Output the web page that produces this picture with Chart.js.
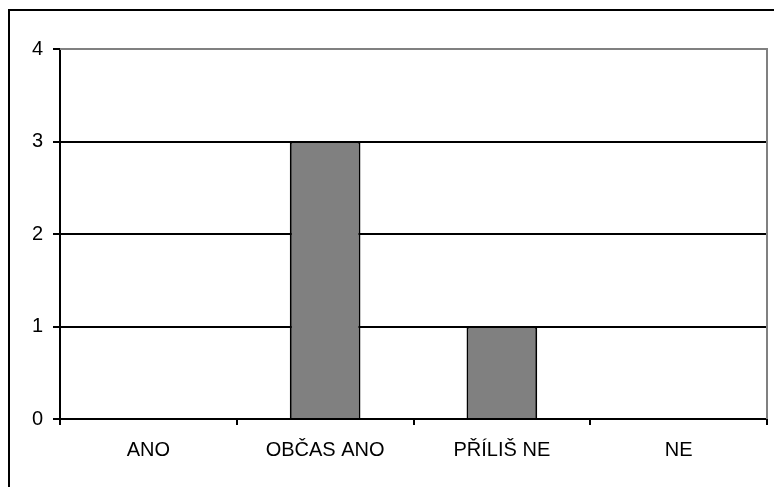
<!DOCTYPE html>
<html>
<head>
<meta charset="utf-8">
<script src="https://cdn.jsdelivr.net/npm/chart.js@4/dist/chart.umd.min.js"></script>
<style>
  html, body { margin: 0; padding: 0; background: #fff; }
  #wrap { width: 774px; height: 487px; }
</style>
</head>
<body>
<div id="wrap"><canvas id="graf" width="774" height="487"></canvas></div>
<script>
const kategorie = ['ANO', 'OBČAS ANO', 'PŘÍLIŠ NE', 'NE'];
const pocty = [0, 3, 1, 0];
const osaY = [0, 1, 2, 3, 4];

// rámeček kolem celého grafu + šedé okraje plochy grafu (nahoře a vpravo)
const ramecek = {
  id: 'ramecek',
  beforeDraw(chart) {
    const c = chart.ctx;
    c.save();
    c.fillStyle = '#fff';
    c.fillRect(0, 0, chart.width, chart.height);
    c.strokeStyle = '#000';
    c.lineWidth = 2;
    c.beginPath();
    c.moveTo(9, chart.height);
    c.lineTo(9, 10);
    c.lineTo(chart.width, 10);
    c.stroke();
    c.restore();
  },
  afterDatasetsDraw(chart) {
    const a = chart.chartArea;
    const c = chart.ctx;
    c.save();
    c.strokeStyle = '#808080';
    c.lineWidth = 2;
    c.beginPath();
    c.moveTo(a.left, a.top);
    c.lineTo(a.right, a.top);
    c.lineTo(a.right, a.bottom);
    c.stroke();
    c.restore();
  }
};

const pismo = { family: "'Liberation Sans', Arial, sans-serif", size: 20 };

new Chart(document.getElementById('graf'), {
  type: 'bar',
  data: {
    labels: kategorie,
    datasets: [{
      data: pocty,
      backgroundColor: '#808080',
      borderColor: '#000',
      borderWidth: 2,
      borderSkipped: 'bottom',
      barPercentage: 0.4,
      categoryPercentage: 1.0
    }]
  },
  options: {
    responsive: false,
    animation: false,
    layout: { padding: { left: 0, top: 49, right: 7, bottom: 0 } },
    plugins: { legend: { display: false }, tooltip: { enabled: false } },
    scales: {
      x: {
        grid: {
          offset: true,
          drawOnChartArea: false,
          drawTicks: true,
          tickLength: 6,
          color: '#000',
          lineWidth: 2
        },
        border: { color: '#000', width: 2 },
        ticks: {
          color: '#000',
          font: pismo,
          padding: 13,
          maxRotation: 0
        },
        afterFit(s) { s.height = 68; }
      },
      y: {
        min: osaY[0],
        max: osaY[osaY.length - 1],
        afterBuildTicks(s) { s.ticks = osaY.map(v => ({ value: v })); },
        grid: {
          color: '#000',
          lineWidth: 2,
          tickLength: 7,
          drawTicks: true
        },
        border: { color: '#000', width: 2 },
        ticks: {
          color: '#000',
          font: pismo,
          padding: 10
        },
        afterFit(s) { s.width = 60; }
      }
    }
  },
  plugins: [ramecek]
});
</script>
</body>
</html>
